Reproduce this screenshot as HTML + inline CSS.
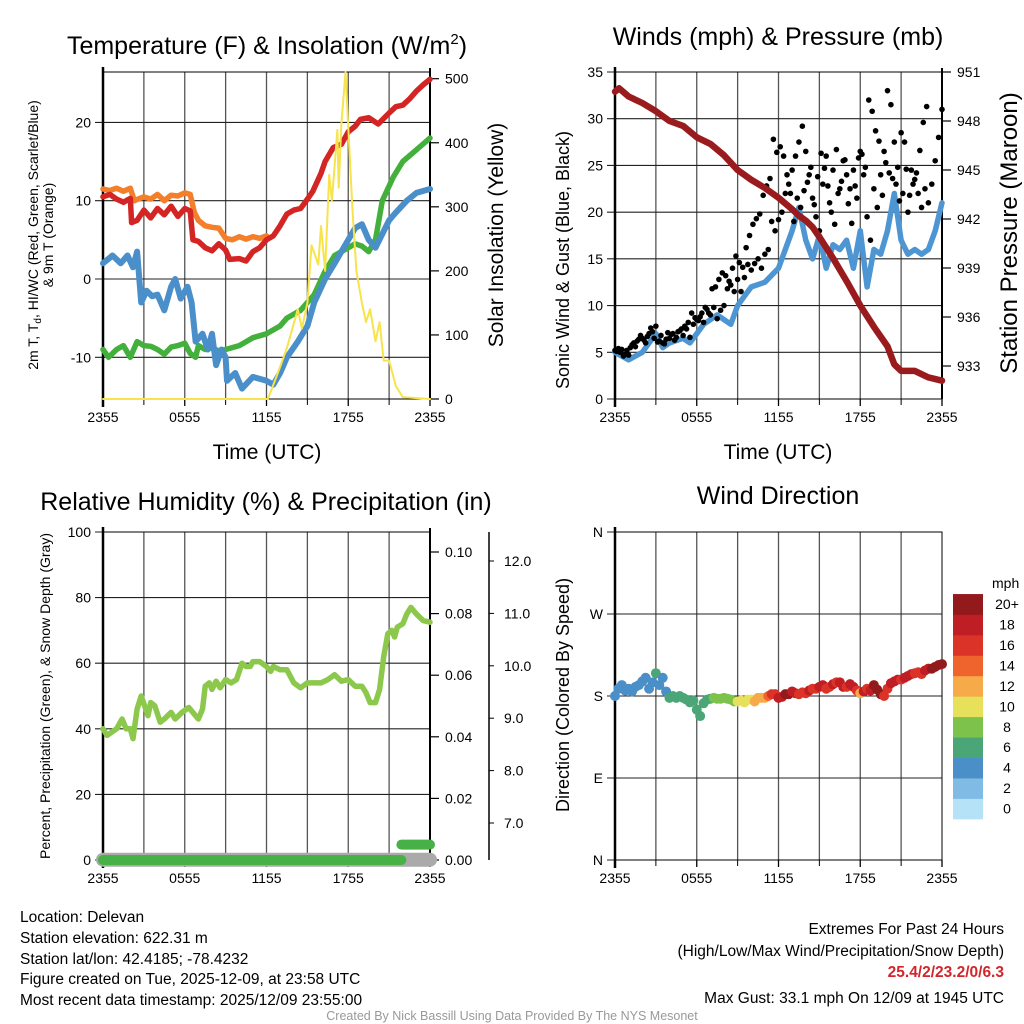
<!DOCTYPE html>
<html><head><meta charset="utf-8">
<style>
html,body{margin:0;padding:0;background:#fff;}
svg{display:block;font-family:"Liberation Sans",sans-serif;}
.nar{font-family:"Liberation Sans Narrow","Liberation Sans",sans-serif;}
</style></head>
<body>
<svg id="fig" width="1024" height="1024" viewBox="0 0 1024 1024" xmlns="http://www.w3.org/2000/svg">
<rect width="1024" height="1024" fill="#fff"/>
<g id="p1"></g>
<g id="p2"></g>
<g id="p3"></g>
<g id="p4"></g>
<text x="267" y="54" font-size="25" text-anchor="middle">Temperature (F) &amp; Insolation (W/m<tspan font-size="15" dy="-10">2</tspan><tspan dy="10">)</tspan></text>
<text x="778" y="45" font-size="25" text-anchor="middle">Winds (mph) &amp; Pressure (mb)</text>
<text x="266" y="510" font-size="25" text-anchor="middle">Relative Humidity (%) &amp; Precipitation (in)</text>
<text x="778" y="504" font-size="25" text-anchor="middle">Wind Direction</text>
<text x="267" y="459" font-size="21" text-anchor="middle">Time (UTC)</text>
<text x="778" y="459" font-size="21" text-anchor="middle">Time (UTC)</text>
<text transform="translate(38,235) rotate(-90)" font-size="14" text-anchor="middle">2m T, T<tspan font-size="10" dy="3">d</tspan><tspan dy="-3">, HI/WC (Red, Green, Scarlet/Blue)</tspan></text>
<text transform="translate(53,235) rotate(-90)" font-size="14" text-anchor="middle">&amp; 9m T (Orange)</text>
<text transform="translate(503,235) rotate(-90)" font-size="21" text-anchor="middle">Solar Insolation (Yellow)</text>
<text transform="translate(569,260) rotate(-90)" font-size="18" text-anchor="middle">Sonic Wind &amp; Gust (Blue, Black)</text>
<text transform="translate(1017,233) rotate(-90)" font-size="24" text-anchor="middle">Station Pressure (Maroon)</text>
<text transform="translate(50,696) rotate(-90)" font-size="14" text-anchor="middle">Percent, Precipitation (Green), &amp; Snow Depth (Gray)</text>
<text transform="translate(569,695) rotate(-90)" font-size="18" text-anchor="middle">Direction (Colored By Speed)</text>
<g class="nar" font-size="15.5">
<text x="20" y="922">Location: Delevan</text>
<text x="20" y="943">Station elevation: 622.31 m</text>
<text x="20" y="964">Station lat/lon: 42.4185; -78.4232</text>
<text x="20" y="984">Figure created on Tue, 2025-12-09, at 23:58 UTC</text>
<text x="20" y="1005">Most recent data timestamp: 2025/12/09 23:55:00</text>
<text x="1004" y="934" text-anchor="end">Extremes For Past 24 Hours</text>
<text x="1004" y="956" text-anchor="end">(High/Low/Max Wind/Precipitation/Snow Depth)</text>
<text x="1004" y="977" text-anchor="end" fill="#d0262c" font-weight="bold">25.4/2/23.2/0/6.3</text>
<text x="1004" y="1003" text-anchor="end">Max Gust: 33.1 mph On 12/09 at 1945 UTC</text>
<text x="512" y="1020" text-anchor="middle" font-size="12.5" fill="#999">Created By Nick Bassill Using Data Provided By The NYS Mesonet</text>
</g>
</svg>
<script>
// ---------- data ----------
const timeTicks = ["2355","0555","1155","1755","2355"];
const tempHours = [0,0.5,1,1.5,2,2.1,2.5,3,3.5,4,4.5,5,5.5,6,6.4,6.6,7,7.5,8,8.5,9,9.3,10,10.5,11,11.5,12,12.5,13,13.5,14,14.5,15,15.4,16,16.3,16.9,17.5,18,18.5,18.9,19.5,20.2,21,21.5,22,22.5,23,23.5,24];
const tempVals = [10.5,10.8,10.2,9.8,10.3,7.2,7.5,8.8,7.8,9,8.2,9.3,8,9,8.7,5,4.8,4,3.6,4.5,3.7,2.5,2.6,2.3,3.5,4,5,5.5,6.8,8.3,8.8,9,10.2,11.2,13.5,15,16.8,17.2,18.8,19.5,20.4,20.6,19.8,21.2,22,22.2,23,24,24.8,25.5];
const nineHours = [0,0.5,1,1.5,2,2.3,2.7,3,3.5,4,4.5,5,5.5,6,6.4,6.7,7,7.5,8,8.5,9,9.5,10,10.5,11,11.5,12];
const nineVals = [11.5,11.3,11.6,11.2,11.6,10,10.3,10.5,10.2,10.8,10,10.7,10.6,11,10.8,8.5,7.5,6.8,6.6,6.5,5.2,5,5.4,5.1,5.4,5.2,5.5];
const dewHours = [0,0.4,1,1.5,2,2.5,3,3.5,4,4.5,5,5.5,6,6.4,6.8,7,7.5,8,8.5,9,10,11,12,13,13.5,14.5,15.5,16.3,17,18,18.5,19,19.5,20,20.5,21.3,22,23,24];
const dewVals = [-9,-10,-9,-8.5,-10,-8,-8.5,-8.6,-9,-9.6,-8.7,-8.5,-8.2,-9.5,-10,-8.5,-9,-8.8,-9.2,-9,-8.5,-7.5,-7,-6,-5,-4,-2,1,3,4,4.5,4.2,3.5,5,10,13,15,16.5,18];
const wcHours = [0,0.7,1.3,1.8,2.2,2.5,2.8,3.2,3.6,4,4.5,5,5.3,5.7,6.2,6.5,6.8,7.3,7.7,8,8.3,8.7,9,9.1,9.7,10.2,11,12,12.5,13,13.5,14.3,15,15.5,16.3,17,18,18.5,19,19.5,20,21,21.5,22.3,23,24];
const wcVals = [2,3,2,3,1.5,3.5,-3,-1.5,-2.2,-2,-4,-1,0,-2.5,-1,-3,-8,-7,-9,-7,-11,-9,-10,-13,-12,-14,-12.5,-13,-13.5,-12,-10,-8,-6,-3,0,2,5,6.5,7,5,4,7.5,8.5,10,11,11.5];
const solarHours = [0,12.1,13,13.5,14.3,14.6,15,15.3,15.8,16,16.3,16.6,16.8,17.2,17.3,17.5,17.8,18.3,18.6,19,19.3,19.6,20,20.3,20.6,21,21.5,22,24];
const solarVals = [0,0,50,80,140,110,150,240,210,270,200,350,310,420,330,430,510,300,200,150,120,140,90,120,60,60,20,3,0];
const windHours = [0,1,2,2.5,3,3.5,4,5,5.5,6,6.5,7,7.5,8,8.5,9,9.5,10,11,12,12.5,13,13.5,14,14.5,15,15.5,16,16.5,17,17.5,18,18.5,19,19.5,20,20.5,21,21.5,22,22.5,23,23.5,24];
const windVals = [5,4.2,5,6,7,5.5,6,6.5,6,7,8,8.5,9,8.5,8,10,11,12,12.5,14,16,18,20.5,17,15,17.5,14,16.5,16,17,14,18,12,16,15.5,18,22,17,15.5,16,15.5,16,18,21];
const gustA = [5.2,5.4,5.3,4.8,4.7,5.8,5.6,6.4,6.5,6,7,7.2,7.8,6.2,6,6.4,6.5,7,6.6,7.3,6.8,7.5,6.6,8,8.5,8.8,8.2,9.6,9,9.8,8.6,9.5,10,11.8,12.2,11.5,12.8,11.5,13,14.4,13.8,14.5,15,14,15.5,16,19,18,19.2,20,22,23,24.5,26,27.5,29.2,26.5,24,21.5,19.5,18,23,26,21,24.5,26.7,22.5,25.5,24,22.5,24.5,21.5,26.5,24,19.5,17,22.5,20.5,24,26.5,33,31.5,27.5,24.8,28.5,27.5,20,24.5,23.5,22,20.5,22.5,21,23,25.5,28,31];
const gustB = [5.1,5,4.6,5.2,5.5,6,6.2,6.8,6.3,6.7,7.6,6.5,6.1,6.8,5.9,7.1,6.9,6.3,7.2,7.5,7.8,8.2,9.2,8.7,8.4,9.2,9.8,9.2,11.8,12,12.8,13.5,13.2,12.6,14,15.3,14.6,14.1,16.2,17.5,18.7,19.3,19.8,21.8,22.8,23.6,27.8,26.4,27,26,24,22,19,21.5,20.5,22.3,23.2,24.8,20.8,23.8,26.3,24.7,22.8,20,18.7,22,23.3,25.6,20.9,18.8,22.8,25.8,26.2,24.8,32,30.8,28.7,27.6,21.8,25.3,24.2,23.6,23,21.2,22,24.6,21.8,23,24.2,26.6,29.6,31.3];
const presHours = [0,0.3,1,2,3,4,5,6,7,8,9,10,11,12,13,13.5,14,14.5,15,16,17,18,19,19.5,20,20.5,21,22,23,24];
const presVals = [949.8,950,949.5,949.1,948.6,948,947.7,947,946.6,945.9,945,944.4,943.9,943.3,942.6,942.2,941.9,941.5,940.9,939.6,938.2,936.7,935.4,934.8,934.2,933.1,932.7,932.7,932.3,932.1];
const rhHours = [0,0.3,1,1.4,1.7,2,2.2,2.5,2.8,3.3,3.5,3.8,4.2,4.5,5,5.3,5.8,6.3,6.8,7,7.3,7.5,7.8,8,8.3,8.6,9,9.4,9.8,10.2,10.5,10.8,11,11.5,12,12.3,12.5,13,13.5,14,14.5,15,15.5,16,16.5,17,17.5,18,18.5,19,19.3,19.6,20,20.3,20.6,20.9,21.2,21.4,21.6,22,22.3,22.6,23,23.5,24];
const rhVals = [40,38,40,43,40,40,37,46,50,44,48,47,42,43,45,43,45,46.5,44,43,46,53,54,52,54.5,52.5,55,54,55,60,59,59,60.5,60.5,59,57.5,59,58,58,54,52.5,54,54,54,55,56.5,54.5,55,53,53,51,48,48,52,62,69,70,68,71,72,75,77,75,73,72.5];
const precipHours = [0,21.9,21.9,24];
const precipVals = [0,0,0.005,0.005];
const snowHours = [0,24];
const snowVals = [6.3,6.3];
const dirVals = [180,188,192,186,188,185,190,192,196,200,188,195,205,192,200,185,178,180,178,180,178,176,173,175,165,158,172,176,177,178,177,177,178,177,176,174,174,175,173,176,176,174,178,178,178,180,182,182,178,179,182,182,185,183,182,184,183,186,188,188,190,192,188,190,193,195,195,190,190,193,190,186,183,185,188,186,192,187,182,180,188,194,196,198,198,200,202,204,205,206,204,208,210,210,212,214,215];
const spdVals = [4,4,4,4,4,4,4,4,4,4,5,5,6,5,4,4,6,6,6,6,6,6,6,6,6,6,6,7,7,8,8,8,8,9,9,8,10,10,11,10,11,12,12,13,13,14,16,17,18,19,20,21,19,18,17,16,17,18,17,16,19,18,16,17,18,17,18,18,17,19,18,16,13,18,17,19,20,22,21,16,17,18,19,18,17,19,18,18,17,16,17,18,19,20,21,20,21];
const speedBins = ["0","2","4","6","8","10","12","14","16","18","20+"];
const binColors = ["#b5e2f6","#7fbbe4","#4a8fc7","#4aa676","#7dc24b","#e6e05a","#f6aa4a","#ef632d","#dc3328","#bf1e24","#931a1c"];

// ---------- helpers ----------
const NS="http://www.w3.org/2000/svg";
function el(parent,tag,attrs){const e=document.createElementNS(NS,tag);for(const k in attrs)e.setAttribute(k,attrs[k]);parent.appendChild(e);return e;}
function lin(d0,d1,r0,r1){return v=>r0+(v-d0)/(d1-d0)*(r1-r0);}
function frame(g,x0,x1,y0,y1,yTicks,yFn,yLabels,name){
  const X=lin(0,24,x0,x1);
  for(let h=3;h<24;h+=3){const l=el(g,'line',{x1:X(h),x2:X(h),y1:y0,y2:y1,stroke:'#555','stroke-width':1.3});
    
    }
  yTicks.forEach((v,i)=>{const y=yFn(v);
    const l=el(g,'line',{x1:x0-8,x2:x1,y1:y,y2:y,stroke:'#222','stroke-width':1.1});
    
    
    const t=el(g,'text',{x:x0-12,y:y+5,'font-size':14,'text-anchor':'end'});t.textContent=yLabels[i];
    
    });
  const b=el(g,'rect',{x:x0,y:y0,width:x1-x0,height:y1-y0,fill:'none',stroke:'#000','stroke-width':1});
  
  
  el(g,'line',{x1:x0,x2:x0,y1:y0-5,y2:y1+8,stroke:'#000','stroke-width':2.5});
  timeTicks.forEach((s,i)=>{const x=X(i*6);
    const tk=el(g,'line',{x1:x,x2:x,y1:y1,y2:y1+7,stroke:'#000','stroke-width':1.3});
    
    
    const t=el(g,'text',{x:x,y:y1+23,'font-size':14,'text-anchor':'middle'});t.textContent=s;
    
    });
  for(let h=3;h<24;h+=6){el(g,'line',{x1:X(h),x2:X(h),y1:y1,y2:y1+6,stroke:'#000','stroke-width':1});}
  return X;
}
function rightAxis(g,x,yFn,vals,labels,name,len){
  vals.forEach((v,i)=>{const y=yFn(v);
    el(g,'line',{x1:x,x2:x+(len||9),y1:y,y2:y,stroke:'#000','stroke-width':1.2});
    const t=el(g,'text',{x:x+15,y:y+5,'font-size':14});t.textContent=labels[i];
    
    });
}
function line(g,hours,vals,X,Y,color,w,name){
  const d=hours.map((h,i)=>(i?'L':'M')+X(h).toFixed(1)+','+Y(vals[i]).toFixed(1)).join(' ');
  const p=el(g,'path',{d:d,fill:'none',stroke:color,'stroke-width':w,'stroke-linejoin':'round','stroke-linecap':'round'});
  
  
  return p;
}

// ---------- panel 1 ----------
(function(){
  const g=document.getElementById('p1');
  const Y=lin(0,10,279,200.7);
  const X=frame(g,103,430,72,399,[-10,0,10,20],Y,["-10","0","10","20"],'temp-axis');
  const S=lin(0,500,399,78.7);
  el(g,'line',{x1:430,x2:430,y1:68,y2:399,stroke:'#000','stroke-width':2});
  rightAxis(g,430,S,[0,100,200,300,400,500],["0","100","200","300","400","500"],'solar-axis');
  line(g,dewHours,dewVals,X,Y,'#43b03c',5.5,'dewpoint-line');
  line(g,wcHours,wcVals,X,Y,'#4a8fc9',6,'windchill-line');
  line(g,nineHours,nineVals,X,Y,'#f47f2a',5.5,'temp-9m-line');
  line(g,tempHours,tempVals,X,Y,'#d42525',5.5,'temp-2m-line');
  line(g,solarHours,solarVals,X,S,'#f7e34c',2,'solar-line');
})();

// ---------- panel 2 ----------
(function(){
  const g=document.getElementById('p2');
  const Y=lin(0,35,399,72);
  const X=frame(g,615,942,72,399,[0,5,10,15,20,25,30,35],Y,["0","5","10","15","20","25","30","35"],'wind-axis');
  const P=lin(933,951,366,72);
  el(g,'line',{x1:942,x2:942,y1:68,y2:399,stroke:'#000','stroke-width':2});
  rightAxis(g,942,P,[933,936,939,942,945,948,951],["933","936","939","942","945","948","951"],'pressure-axis');
  line(g,windHours,windVals,X,Y,'#4d96d3',5.5,'sustained-wind-line');
  gustA.forEach((v,i)=>{const c=el(g,'circle',{cx:X(i*0.25),cy:Y(v),r:2.8,fill:'#000'});
    
    });
  gustB.forEach((v,i)=>{const c=el(g,'circle',{cx:X(i*0.25+0.125),cy:Y(v),r:2.8,fill:'#000'});
    
    });
  line(g,presHours,presVals,X,P,'#9a1b1e',6.5,'pressure-line');
})();

// ---------- panel 3 ----------
(function(){
  const g=document.getElementById('p3');
  const Y=lin(0,100,860,532);
  const X=frame(g,103,430,532,860,[0,20,40,60,80,100],Y,["0","20","40","60","80","100"],'rh-axis');
  const PR=lin(0,0.1,860,552);
  el(g,'line',{x1:430,x2:430,y1:528,y2:860,stroke:'#000','stroke-width':2});
  rightAxis(g,430,PR,[0,0.02,0.04,0.06,0.08,0.1],["0.00","0.02","0.04","0.06","0.08","0.10"],'precip-axis');
  const SN=lin(7,12,823,561);
  const ax=el(g,'line',{x1:489,x2:489,y1:532,y2:860,stroke:'#000','stroke-width':1.5});
  
  
  [7,8,9,10,11,12].forEach(v=>{const y=SN(v);el(g,'line',{x1:489,x2:494,y1:y,y2:y,stroke:'#000'});
    const t=el(g,'text',{x:504,y:y+5,'font-size':14});t.textContent=v.toFixed(1);
    
    });
  line(g,snowHours,snowVals,X,SN,'#aaa',14,'snow-depth-line');
  line(g,precipHours.slice(0,2),precipVals.slice(0,2),X,PR,'#47b047',10,'precip-line');
  line(g,precipHours.slice(2),precipVals.slice(2),X,PR,'#47b047',10,'precip-line-2');
  line(g,rhHours,rhVals,X,Y,'#8cc84b',5.5,'humidity-line');
})();

// ---------- panel 4 ----------
(function(){
  const g=document.getElementById('p4');
  const Y=lin(0,360,860,532);
  const X=frame(g,615,942,532,860,[0,90,180,270,360],Y,["N","E","S","W","N"],'direction-axis');
  dirVals.forEach((d,i)=>{const b=Math.min(10,Math.floor(spdVals[i]/2));
    const c=el(g,'circle',{cx:X(i*0.25),cy:Y(d),r:5,fill:binColors[b]});
    
    });
  const lg=el(g,'g',{});
  
  
  const t0=el(lg,'text',{x:992,y:588,'font-size':14});t0.textContent='mph';
  speedBins.forEach((s,i)=>{const y=819-(i+1)*20.45;
    const r=el(lg,'rect',{x:953,y:y,width:30,height:20.8,fill:binColors[i]});
    
    
    const t=el(lg,'text',{x:1007,y:y+15,'font-size':14,'text-anchor':'middle'});t.textContent=s;
    
    });
})();
</script>
</body></html>
